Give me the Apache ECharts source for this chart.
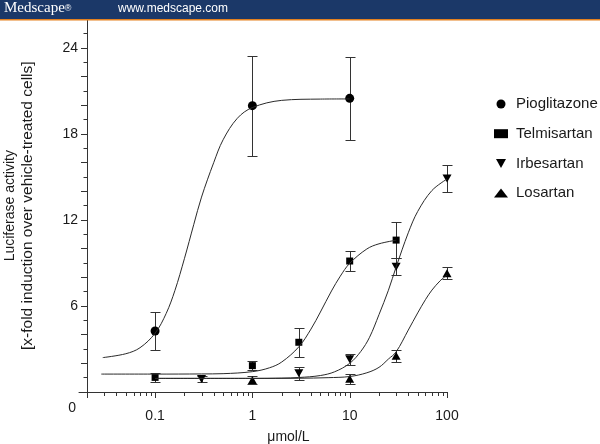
<!DOCTYPE html>
<html><head><meta charset="utf-8">
<script src="https://cdn.jsdelivr.net/npm/echarts@6/dist/echarts.min.js"></script>
<style>html,body{margin:0;padding:0;background:#fff;overflow:hidden}#c{width:600px;height:444px}</style>
</head><body><div id="c"></div>
<script>
// ---- data ----
const seriesNames = ['Pioglitazone', 'Telmisartan', 'Irbesartan', 'Losartan'];
const pioPoints = [[0.1, 4.26], [1, 19.98], [10, 20.49]];
const pioErr    = [1.34, 3.5, 2.9];
const telPoints = [[0.1, 1.02], [1, 1.84], [3, 3.47], [10, 9.14], [30, 10.6]];
const telErr    = [0.3, 0.3, 1.03, 0.7, 1.27];
const irbPoints = [[0.3, 0.91], [3, 1.30], [10, 2.28], [30, 8.74], [100, 14.9]];
const irbErr    = [0.22, 0.44, 0.37, 0.6, 0.93];
const losPoints = [[1, 0.84], [10, 0.93], [30, 2.53], [100, 8.28]];
const losErr    = [0.25, 0.35, 0.42, 0.42];
const pioCurve = [[0.029, 2.4], [0.05, 2.67], [0.07, 3.09], [0.1, 4.1], [0.13, 5.48], [0.16, 7.09], [0.2, 9.3],
  [0.25, 11.7], [0.3, 13.6], [0.4, 16.0], [0.5, 17.6], [0.7, 19.1], [1, 19.85], [2, 20.35], [5, 20.44], [10, 20.45]];
const telCurve = [[0.028, 1.25], [0.1, 1.25], [0.3, 1.26], [0.5, 1.28], [1, 1.42], [1.5, 1.69], [2, 2.09], [3, 3.15],
  [4, 4.39], [5, 5.58], [6.5, 7.05], [8, 8.08], [10, 8.98], [15, 9.98], [20, 10.34], [30, 10.59]];
const irbCurve = [[0.1, 0.95], [1, 0.95], [2, 0.97], [3, 1.01], [5, 1.15], [7, 1.41], [10, 2.0], [13, 2.83], [16, 3.82],
  [20, 5.4], [25, 7.1], [30, 8.72], [40, 11.11], [50, 12.6], [70, 14.06], [100, 14.86]];
const losCurve = [[0.1, 0.95], [1, 0.95], [3, 0.96], [6, 1.0], [10, 1.08], [15, 1.34], [20, 1.72], [25, 2.3], [30, 2.8],
  [40, 4.32], [50, 5.52], [60, 6.44], [70, 7.11], [85, 7.76], [100, 8.16]];
const xTickValues = [0.1, 1, 10, 100];
const xTickLabels = ['0.1', '1', '10', '100'];
const xMajorTicks = [0.02, 0.1, 1, 10, 100];
const xMinorTicks = [0.03, 0.04, 0.05, 0.06, 0.07, 0.08, 0.09,
  0.2, 0.3, 0.4, 0.5, 0.6, 0.7, 0.8, 0.9, 2, 3, 4, 5, 6, 7, 8, 9, 20, 30, 40, 50, 60, 70, 80, 90];
const yLabelValues = [6, 12, 18, 24];
const originLabel = '0';

const INK = '#1a1a1a';
const FONT = 'Liberation Sans, Arial, Helvetica, sans-serif';
function errRender(params, api) {
  const x = api.value(0), lo = api.value(1), hi = api.value(2);
  const p0 = api.coord([x, lo]), p1 = api.coord([x, hi]);
  const cx = Math.round(p0[0]) + 0.5, y0 = Math.round(p0[1]) + 0.5, y1 = Math.round(p1[1]) + 0.5, w = 5;
  const style = {stroke: '#333', lineWidth: 1};
  return {type: 'group', children: [
    {type: 'line', shape: {x1: cx, y1: y0, x2: cx, y2: y1}, style},
    {type: 'line', shape: {x1: cx - w, y1: y0, x2: cx + w, y2: y0}, style},
    {type: 'line', shape: {x1: cx - w, y1: y1, x2: cx + w, y2: y1}, style}]};
}
function tickRender(len) {
  return function (params, api) {
    const p = api.coord([api.value(0), 0]);
    const x = Math.round(p[0]) + 0.5;
    return {type: 'line', shape: {x1: x, y1: p[1], x2: x, y2: p[1] + len}, style: {stroke: '#333', lineWidth: 1}};
  };
}
const downTri = 'path://M0,0L10,0L5,9Z';
const symbols = ['circle', 'rect', downTri, 'triangle'];
const symSizes = [9, 7, [9, 8], [9, 8]];
const pointSets = [pioPoints, telPoints, irbPoints, losPoints];
const errSets = [pioErr, telErr, irbErr, losErr];
const curveSets = [pioCurve, telCurve, irbCurve, losCurve];

const series = [];
curveSets.forEach((c, i) => series.push({name: seriesNames[i] + ' fit', type: 'line', data: c, smooth: 0.35,
  symbol: 'none', silent: true, lineStyle: {color: '#2a2a2a', width: 1}}));
errSets.forEach((e, i) => series.push({name: seriesNames[i] + ' err', type: 'custom',
  data: pointSets[i].map((p, j) => [p[0], p[1] - e[j], p[1] + e[j]]), renderItem: errRender, encode: {x: 0, y: [1, 2]}, clip: false, silent: true}));
pointSets.forEach((p, i) => series.push({name: seriesNames[i], type: 'scatter', data: p, symbol: symbols[i],
  symbolSize: symSizes[i], itemStyle: {color: '#000', opacity: 1}}));
series.push({type: 'custom', name: 'minor', data: xMinorTicks.map(v => [v, 0]), renderItem: tickRender(4), encode: {x: 0, y: 1}, clip: false, silent: true});
series.push({type: 'custom', name: 'major', data: xMajorTicks.map(v => [v, 0]), renderItem: tickRender(6), encode: {x: 0, y: 1}, clip: false, silent: true});

const headerGraphics = [
  {type: 'rect', left: 0, top: 0, shape: {width: 600, height: 19}, style: {fill: '#1b3868'}, z: 100},
  {type: 'rect', left: 0, top: 19, shape: {width: 600, height: 1.5}, style: {fill: '#e3801f'}, z: 100},
  {type: 'text', left: 4, top: 1, z: 101, style: {text: '{m|Medscape}{r|®}', fill: '#fff',
    rich: {m: {fontFamily: 'Liberation Serif, DejaVu Serif, serif', fontSize: 15, fill: '#fff'}, r: {fontFamily: 'Liberation Sans, sans-serif', fontSize: 9, fill: '#fff'}}}},
  {type: 'text', left: 118, top: 3, z: 101, style: {text: 'www.medscape.com', fill: '#fff', fontFamily: FONT, fontSize: 12}}];

const option = {
  animation: false, backgroundColor: '#fff',
  grid: {left: 79, right: 153, top: 19.4, bottom: 52, outerBoundsMode: 'none'},
  legend: {data: seriesNames.map((n, i) => ({name: n, icon: symbols[i]})),
    orient: 'vertical', left: 489, top: 91, itemWidth: 14, itemHeight: 9, itemGap: 13.7,
    textStyle: {fontSize: 15, color: INK, fontFamily: FONT, lineHeight: 16, padding: [0, 0, 0, 3]},
    itemStyle: {color: '#000'}, selectedMode: false},
  xAxis: {type: 'log', min: 0.01652, max: 100, splitNumber: 4,
    axisLine: {show: true, onZero: false, lineStyle: {color: '#333'}},
    axisTick: {show: false}, splitLine: {show: false},
    axisLabel: {fontSize: 14, color: INK, margin: 17, fontFamily: FONT, showMinLabel: false,
      formatter: function (v) { for (let i = 0; i < xTickValues.length; i++) { if (Math.abs(Math.log10(v) - Math.log10(xTickValues[i])) < 1e-6) return xTickLabels[i]; } return ''; }},
    name: 'μmol/L', nameLocation: 'middle', nameGap: 38, nameTextStyle: {fontSize: 14, color: INK, fontFamily: FONT, padding: [0, 0, 0, 51]}},
  yAxis: {type: 'value', min: 0, max: 26, interval: 2, offset: -8,
    axisLine: {show: true, onZero: false, lineStyle: {color: '#333'}},
    axisTick: {show: true, length: 6, lineStyle: {color: '#333'}},
    minorTick: {show: true, splitNumber: 2, length: 3.5, lineStyle: {color: '#333'}},
    splitLine: {show: false},
    axisLabel: {fontSize: 14, color: INK, margin: 9, fontFamily: FONT, showMaxLabel: false,
      formatter: function (v) { return yLabelValues.indexOf(v) >= 0 ? String(v) : ''; }},
    name: '{a|Luciferase activity}\n{b|[x-fold induction over vehicle-treated cells]}', nameLocation: 'middle', nameGap: 51,
    nameTextStyle: {color: INK, fontFamily: FONT, lineHeight: 17, rich: {a: {fontSize: 14, lineHeight: 17, fontFamily: FONT, color: INK}, b: {fontSize: 15.5, lineHeight: 17, fontFamily: FONT, color: INK}}}},
  graphic: headerGraphics,
  series: series
};
const chart = echarts.init(document.getElementById('c'));
chart.setOption(option);
// corner "0" label, placed from the library's own scales (below-left of the origin)
const ox = chart.convertToPixel({xAxisIndex: 0}, xMajorTicks[0]);
const oy = chart.convertToPixel({yAxisIndex: 0}, 0);
chart.setOption({graphic: headerGraphics.concat([{type: 'text', x: ox - 15, y: oy + 16, z: 50,
  style: {text: originLabel, fill: INK, fontFamily: FONT, fontSize: 14, align: 'center', verticalAlign: 'middle'}}])});
</script>
</body></html>
